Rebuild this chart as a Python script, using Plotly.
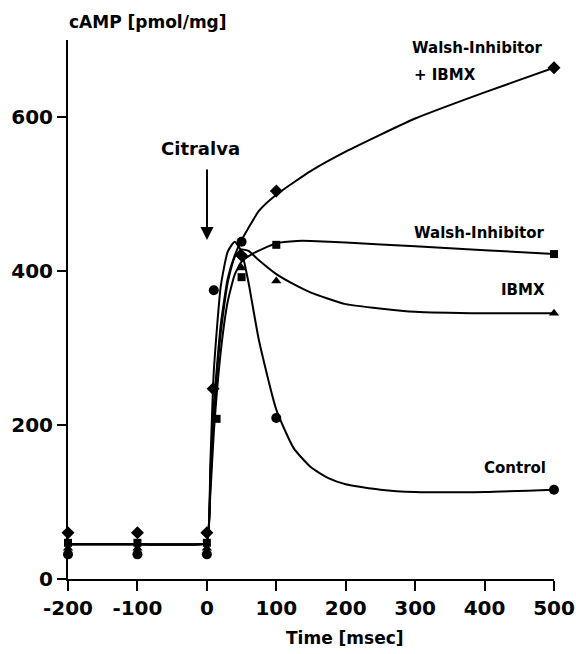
import plotly.graph_objects as go

# ---- data ----
ctrl_pts_t = [-200, -100, 0, 10, 50, 100, 500]
ctrl_pts = [32, 32, 32, 375, 438, 209, 116]
walsh_pts_t = [-200, -100, 0, 14, 50, 100, 500]
walsh_pts = [47, 47, 47, 208, 392, 434, 422]
ibmx_pts_t = [-200, -100, 0, 50, 100, 500]
ibmx_pts = [40, 40, 40, 404, 387, 345]
wi_pts_t = [-200, -100, 0, 9, 50, 100, 500]
wi_pts = [60, 60, 60, 247, 420, 504, 664]

# fitted curves
ctrl_curve_t = [-200, -100, -10, 0, 5, 10, 20, 30, 40, 50, 60, 75, 100, 125, 150, 175, 200, 250, 300, 400, 500]
ctrl_curve = [45, 45, 45, 47, 150, 270, 380, 425, 438, 425, 385, 310, 220, 170, 145, 131, 123, 116, 113, 113, 116]
walsh_curve_t = [-200, -100, -10, 0, 5, 10, 20, 30, 40, 50, 65, 100, 130, 150, 200, 300, 400, 500]
walsh_curve = [45, 45, 45, 47, 110, 190, 295, 360, 395, 412, 422, 436, 439, 439, 437, 432, 427, 422]
ibmx_curve_t = [-200, -100, -10, 0, 5, 10, 20, 30, 40, 50, 60, 75, 100, 127, 150, 200, 300, 400, 500]
ibmx_curve = [45, 45, 45, 47, 120, 210, 320, 385, 418, 428, 426, 414, 396, 382, 372, 357, 347, 345, 345]
wi_curve_t = [-200, -100, -10, 0, 5, 10, 20, 30, 40, 50, 75, 100, 150, 200, 300, 400, 500]
wi_curve = [45, 45, 45, 47, 130, 225, 330, 390, 420, 440, 478, 499, 530, 555, 598, 632, 664]

x_ticks = [-200, -100, 0, 100, 200, 300, 400, 500]
x_ticktext = ["-200", "-100", "0", "100", "200", "300", "400", "500"]
y_ticks = [0, 200, 400, 600]

W, H = 576, 654
L, R, T, B = 68, 22, 40, 75
pw, ph = W - L - R, H - T - B


def px(x):
    return (x - L) / pw


def py(y):
    return (H - B - y) / ph


FONT = "DejaVu Sans, Liberation Sans, Arial, sans-serif"
fig = go.Figure()

curve_line = dict(color="black", width=2, shape="spline", smoothing=0.5)
for ct, cv, nm in [
    (ctrl_curve_t, ctrl_curve, "Control"),
    (walsh_curve_t, walsh_curve, "Walsh-Inhibitor"),
    (ibmx_curve_t, ibmx_curve, "IBMX"),
    (wi_curve_t, wi_curve, "Walsh-Inhibitor + IBMX"),
]:
    fig.add_trace(go.Scatter(x=ct, y=cv, mode="lines", line=curve_line, name=nm,
                             showlegend=False, hoverinfo="skip", cliponaxis=False))

for pt, pv, sym, sz in [
    (ctrl_pts_t, ctrl_pts, "circle", 10),
    (walsh_pts_t, walsh_pts, "square", 8),
    (ibmx_pts_t, ibmx_pts, "triangle-up", 9),
    (wi_pts_t, wi_pts, "diamond", 10),
]:
    fig.add_trace(go.Scatter(x=pt, y=pv, mode="markers",
                             marker=dict(symbol=sym, size=sz, color="black"),
                             showlegend=False, cliponaxis=False))

fig.update_layout(
    width=W, height=H,
    margin=dict(l=L, r=R, t=T, b=B, autoexpand=False),
    paper_bgcolor="white", plot_bgcolor="white",
    font=dict(family=FONT, color="black", size=18, weight="bold"),
    xaxis=dict(range=[-200, 500], tickvals=x_ticks, ticktext=x_ticktext,
               ticks="outside", ticklen=10,
               tickwidth=2, tickcolor="black", showline=True, linecolor="black",
               linewidth=2, showgrid=False, zeroline=False, automargin=False,
               tickfont=dict(family=FONT, size=20, weight="bold")),
    yaxis=dict(range=[0, 700], tickvals=y_ticks, ticks="outside", ticklen=9,
               tickwidth=2, tickcolor="black", showline=True, linecolor="black",
               linewidth=2, showgrid=False, zeroline=False, automargin=False,
               tickfont=dict(family=FONT, size=20, weight="bold")),
)

# extend x-axis line a little left of the y axis
fig.add_shape(type="line", xref="paper", yref="paper", x0=px(59), x1=px(68),
              y0=0, y1=0, line=dict(color="black", width=2))

ann = [
    ("cAMP [pmol/mg]", 67, 22, "left", 17),
    ("Citralva", 200, 148, "center", 18),
    ("Walsh-Inhibitor", 545, 48, "right", 15),
    ("+ IBMX", 412, 75, "left", 15),
    ("Walsh-Inhibitor", 547, 233, "right", 15),
    ("IBMX", 547, 290, "right", 15),
    ("Control", 548, 468, "right", 15),
    ("Time [msec]", 345, 638, "center", 17),
]
for txt, x, y, xa, fs in ann:
    fig.add_annotation(text=txt, xref="paper", yref="paper", x=px(x), y=py(y),
                       xanchor=xa, yanchor="middle", showarrow=False,
                       font=dict(family=FONT, size=fs, weight="bold", color="black"))

# Citralva arrow
fig.add_annotation(xref="paper", yref="paper", x=px(207), y=py(240),
                   ax=0, ay=-72, axref="pixel", ayref="pixel",
                   showarrow=True, arrowhead=2, arrowsize=1.3, arrowwidth=2,
                   arrowcolor="black", text="")

fig.write_html("out.html")
